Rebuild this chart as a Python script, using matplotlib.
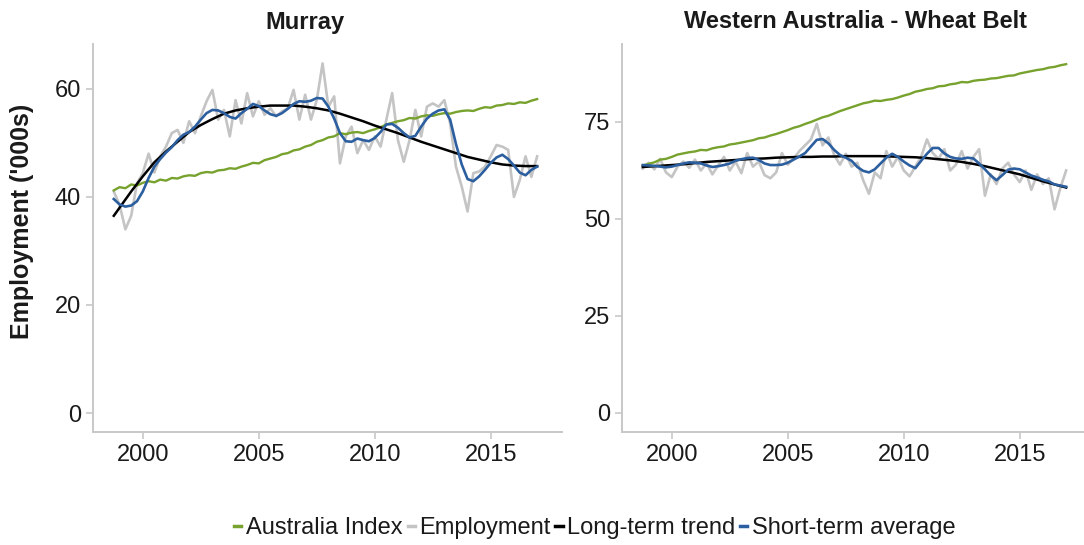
import matplotlib
matplotlib.use("Agg")
import matplotlib.pyplot as plt
import numpy as np

plt.rcParams['font.family'] = ['Liberation Sans', 'DejaVu Sans']

# quarterly dates, first obs 1998 Q4, last 2017 Q1
quarters = np.arange(1998.75, 2017.01, 0.25)
# half-yearly dates for the smooth long-term trend
trend_years = np.concatenate([[1998.75], np.arange(1999.0, 2017.01, 0.5)])

# ---- Murray ----
murray_index = [41.2,
                41.8, 41.6, 42.3, 42.1,
                42.6, 42.9, 42.7, 43.2,
                43.0, 43.5, 43.4, 43.8,
                44.0, 43.9, 44.4, 44.6,
                44.5, 44.9, 45.0, 45.3,
                45.2, 45.6, 45.9, 46.3,
                46.2, 46.8, 47.1, 47.4,
                47.9, 48.1, 48.6, 48.8,
                49.3, 49.6, 50.2, 50.5,
                51.0, 51.2, 51.8, 51.6,
                51.9, 52.0, 51.8, 52.2,
                52.5, 52.9, 53.4, 53.7,
                54.0, 54.2, 54.6, 54.5,
                54.9, 55.1, 55.0, 55.3,
                55.5, 55.4, 55.7, 55.9,
                56.0, 55.9, 56.3, 56.6,
                56.5, 56.9, 57.0, 57.3,
                57.2, 57.5, 57.4, 57.8,
                58.1]
murray_emp = [41.0,
              38.5, 34.0, 36.5, 42.5,
              44.4, 48.0, 44.5, 47.5,
              49.3, 51.8, 52.4, 50.0,
              54.0, 51.8, 54.9, 57.7,
              59.8, 54.3, 56.1, 51.2,
              57.9, 53.6, 59.2, 54.9,
              57.7, 55.2, 56.4, 54.9,
              55.8, 56.4, 59.8, 54.3,
              58.9, 54.3, 57.9, 64.7,
              56.7, 58.6, 46.2, 51.2,
              53.0, 48.1, 50.5, 48.7,
              51.2, 49.3, 54.3, 59.2,
              50.5, 46.5, 50.5, 56.1,
              51.2, 56.7, 57.3, 56.7,
              57.9, 53.6, 45.6, 41.9,
              37.3, 44.4, 44.7, 45.6,
              47.5, 49.6, 49.3, 48.7,
              40.0, 43.1, 47.5, 43.7,
              47.5]
murray_short = [39.6,
                38.6, 38.2, 38.4, 39.2,
                41.0, 43.5, 45.6, 47.0,
                48.2, 49.2, 50.5, 51.5,
                52.0, 53.0, 54.3, 55.5,
                56.1, 56.0, 55.5, 54.8,
                54.5, 55.5, 56.3, 57.2,
                56.8, 56.0, 55.3, 55.0,
                55.5, 56.3, 57.2, 57.7,
                57.6, 57.8, 58.3, 58.2,
                56.7, 54.5, 51.8, 50.3,
                50.2, 50.8, 50.5, 50.3,
                50.9, 52.0, 53.4, 53.5,
                52.8, 51.8, 51.0, 51.3,
                53.0, 54.5, 55.4, 56.0,
                56.2, 54.3, 49.8, 46.0,
                43.3, 42.9, 43.8, 45.0,
                46.3, 47.3, 47.8, 47.0,
                45.8, 44.5, 44.0, 45.0,
                45.6]
murray_trend = [36.5, 38.0, 41.0, 43.8, 46.4, 48.4, 50.2, 52.0, 53.3, 54.4,
                55.4, 56.0, 56.4, 56.7, 56.9, 56.9, 56.9, 56.7, 56.4, 56.0,
                55.4, 54.7, 54.0, 53.2, 52.5, 51.8, 51.0, 50.2, 49.5, 48.8,
                48.1, 47.4, 46.9, 46.4, 46.0, 45.8, 45.7, 45.7]

# ---- Western Australia - Wheat Belt ----
wa_index = [63.8,
            64.2, 64.6, 65.3, 65.5,
            66.0, 66.6, 66.9, 67.2,
            67.4, 67.8, 67.7, 68.2,
            68.5, 68.7, 69.2, 69.4,
            69.7, 70.0, 70.3, 70.8,
            71.0, 71.5, 71.9, 72.4,
            72.9, 73.5, 73.9, 74.5,
            75.0, 75.6, 76.2, 76.6,
            77.2, 77.8, 78.3, 78.8,
            79.3, 79.8, 80.1, 80.5,
            80.4, 80.7, 80.9, 81.3,
            81.8, 82.2, 82.8, 83.1,
            83.5, 83.7, 84.2, 84.3,
            84.7, 84.9, 85.3, 85.2,
            85.6, 85.8, 85.9, 86.2,
            86.3, 86.6, 86.9, 87.0,
            87.5, 87.8, 88.1, 88.4,
            88.6, 89.0, 89.2, 89.6,
            89.9]
wa_emp = [63.0,
          64.5, 62.8, 65.5, 62.0,
          60.8, 63.5, 64.8, 63.2,
          65.3, 62.5, 64.3, 61.5,
          63.8, 66.0, 62.5, 64.8,
          61.8, 67.0, 63.5, 64.8,
          61.3, 60.5, 62.0, 67.0,
          64.0, 65.5, 67.5, 69.0,
          70.5, 74.5, 69.0, 71.0,
          66.5, 64.0, 66.8, 63.5,
          64.5, 60.0, 56.5, 62.0,
          60.5, 67.5, 63.5, 66.0,
          62.5, 61.0, 63.5, 66.0,
          70.5, 67.0, 65.5, 68.0,
          62.5, 64.0, 67.5, 63.0,
          66.0, 68.0, 56.0, 61.5,
          59.0, 63.0, 64.5, 61.5,
          59.5, 62.5, 57.5, 61.5,
          59.0, 60.5, 52.5, 58.0,
          62.5]
wa_short = [63.9,
            63.8, 63.7, 63.5, 63.3,
            63.5, 63.9, 64.3, 64.6,
            64.5, 64.3, 63.8, 63.4,
            63.6, 63.9, 64.3, 65.0,
            65.4, 65.7, 65.8, 65.2,
            64.3, 63.9, 63.9, 64.0,
            64.5, 65.3, 66.1, 67.0,
            68.7, 70.4, 70.6, 69.5,
            67.8, 66.5, 65.8, 65.0,
            63.4, 62.4, 62.0, 62.8,
            64.3, 65.8, 66.8, 66.0,
            64.8, 63.8, 63.1, 65.0,
            66.8, 68.3, 68.3, 66.9,
            66.0, 65.6, 65.5, 65.8,
            65.6, 64.3, 62.8, 61.2,
            60.0, 61.3, 62.7, 63.0,
            62.8, 62.0, 61.2, 60.7,
            60.1, 59.7, 58.9, 58.6,
            58.3]
wa_trend = [63.4, 63.5, 63.7, 63.9, 64.1, 64.4, 64.7, 64.9, 65.1, 65.3,
            65.5, 65.6, 65.8, 65.9, 66.0, 66.0, 66.1, 66.1, 66.2, 66.2,
            66.2, 66.2, 66.1, 66.0, 65.9, 65.7, 65.4, 65.1, 64.7, 64.2,
            63.6, 62.9, 62.2, 61.5, 60.6, 59.7, 58.9, 58.1]

GREEN = '#77a22d'
GREY = '#c4c4c4'
BLACK = '#000000'
BLUE = '#2c5f9f'
AXIS = '#c8c8c8'
TXT = '#1a1a1a'


def draw_panel(ax, index, emp, short, trend, yticks, ylim, xlim):
    ax.plot(quarters, emp, color=GREY, lw=1.9, label='Employment', zorder=2)
    ax.plot(quarters, index, color=GREEN, lw=1.7, label='Australia Index', zorder=3)
    ax.plot(trend_years, trend, color=BLACK, lw=1.8, label='Long-term trend', zorder=4)
    ax.plot(quarters, short, color=BLUE, lw=1.9, label='Short-term average', zorder=5)
    ax.set_xlim(*xlim)
    ax.set_ylim(*ylim)
    ax.set_xticks([2000, 2005, 2010, 2015])
    ax.set_yticks(yticks)
    for s in ['top', 'right']:
        ax.spines[s].set_visible(False)
    for s in ['left', 'bottom']:
        ax.spines[s].set_color(AXIS)
        ax.spines[s].set_linewidth(1.4)
    ax.tick_params(colors=AXIS, labelcolor=TXT, labelsize=17, length=5, width=1.2)


fig = plt.figure(figsize=(10.84, 5.45), dpi=100)
ax1 = fig.add_axes([0.0855, 0.2079, 0.4327, 0.7114])
ax2 = fig.add_axes([0.5735, 0.2079, 0.4265, 0.7114])

draw_panel(ax1, murray_index, murray_emp, murray_short, murray_trend,
           [0, 20, 40, 60], (-3.46, 68.3), (1997.84, 2018.06))
draw_panel(ax2, wa_index, wa_emp, wa_short, wa_trend,
           [0, 25, 50, 75], (-4.82, 95.1), (1997.84, 2017.77))

fig.text(305 / 1084, 1 - 22 / 545, 'Murray', ha='center', va='center',
         fontsize=17, fontweight='bold', color=TXT)
fig.text(855 / 1084, 1 - 22 / 545, 'Western Australia - Wheat Belt', ha='center',
         va='center', fontsize=17, fontweight='bold', color=TXT)
fig.text(22 / 1084, 1 - 221 / 545, "Employment ('000s)", rotation=90, ha='center',
         va='center', fontsize=18, fontweight='bold', color=TXT)

# legend in alphabetical order like the source
handles, labels = ax1.get_legend_handles_labels()
order = [labels.index(l) for l in ['Australia Index', 'Employment', 'Long-term trend', 'Short-term average']]
leg = fig.legend([handles[i] for i in order], [labels[i] for i in order],
                 loc='center', bbox_to_anchor=(595 / 1084, 1 - 528 / 545), ncol=4,
                 frameon=False, fontsize=17, handlelength=0.3, handletextpad=0.2,
                 columnspacing=0.2)
for line in leg.get_lines():
    line.set_linewidth(2.5)
for t in leg.get_texts():
    t.set_color(TXT)

fig.savefig('out.png', dpi=100)
